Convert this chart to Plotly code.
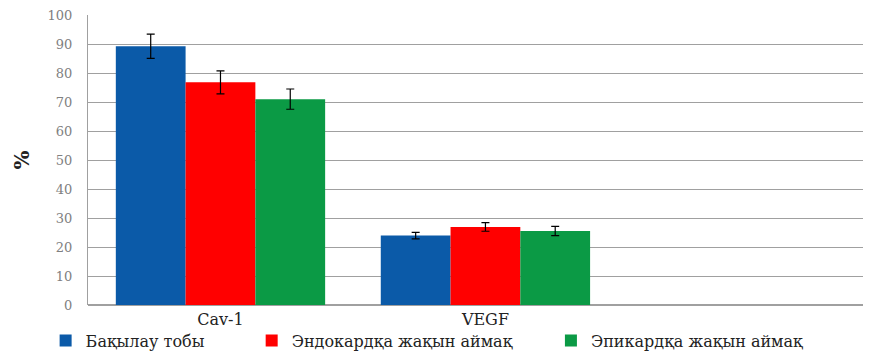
import plotly.graph_objects as go

# Data
categories = ["Cav-1", "VEGF"]
series_names = ["Бақылау тобы", "Эндокардқа жақын аймақ", "Эпикардқа жақын аймақ"]
control = [89.5, 24.0]
endocard = [77.0, 27.0]
epicard = [71.2, 25.6]
control_err = [4.2, 1.1]
endocard_err = [4.0, 1.5]
epicard_err = [3.5, 1.6]

colors = ["#0b5aa8", "#ff0000", "#0b9a45"]
values = [control, endocard, epicard]
errors = [control_err, endocard_err, epicard_err]
legend_ids = ["legend", "legend2", "legend3"]
legend_x = [0.044, 0.285, 0.635]

serif = "DejaVu Serif, Liberation Serif, serif"

fig = go.Figure()
for name, vals, errs, col, lg in zip(series_names, values, errors, colors, legend_ids):
    fig.add_bar(
        x=categories,
        y=vals,
        name=name,
        legend=lg,
        marker=dict(color=col, line=dict(width=0)),
        error_y=dict(type="data", array=errs, color="black", thickness=1.2, width=4),
    )

legend_style = dict(
    orientation="h",
    xref="container",
    yref="container",
    xanchor="left",
    yanchor="middle",
    y=0.033,
    font=dict(family=serif, size=16, color="#222222"),
    bgcolor="rgba(0,0,0,0)",
)

# page body has an 8px margin, so the figure is sized to fit the window
fig.update_layout(
    width=855,
    height=344,
    barmode="group",
    bargap=0.21,
    bargroupgap=0,
    plot_bgcolor="white",
    paper_bgcolor="white",
    margin=dict(l=80, r=0, t=7, b=47, autoexpand=False),
    font=dict(family=serif, color="black"),
    showlegend=True,
    xaxis=dict(
        type="category",
        categoryorder="array",
        categoryarray=categories + [" "],
        range=[-0.5, 2.425],
        showline=False,
        ticks="",
        ticklabelstandoff=3,
        tickfont=dict(family=serif, size=16, color="#222222"),
    ),
    yaxis=dict(
        range=[0, 100.3],
        tickvals=list(range(0, 101, 10)),
        showgrid=True,
        gridcolor="#a0a0a0",
        gridwidth=1,
        showline=True,
        linecolor="#a0a0a0",
        linewidth=1,
        ticks="",
        ticklabelstandoff=12,
        zeroline=True,
        zerolinecolor="#a0a0a0",
        automargin=True,
        tickfont=dict(family=serif, size=13, color="#808080"),
        title=dict(text="<b>%</b>", font=dict(family=serif, size=20, color="#222222"), standoff=12),
    ),
    legend=dict(legend_style, x=legend_x[0]),
    legend2=dict(legend_style, x=legend_x[1]),
    legend3=dict(legend_style, x=legend_x[2]),
)

fig.write_html("out.html")
